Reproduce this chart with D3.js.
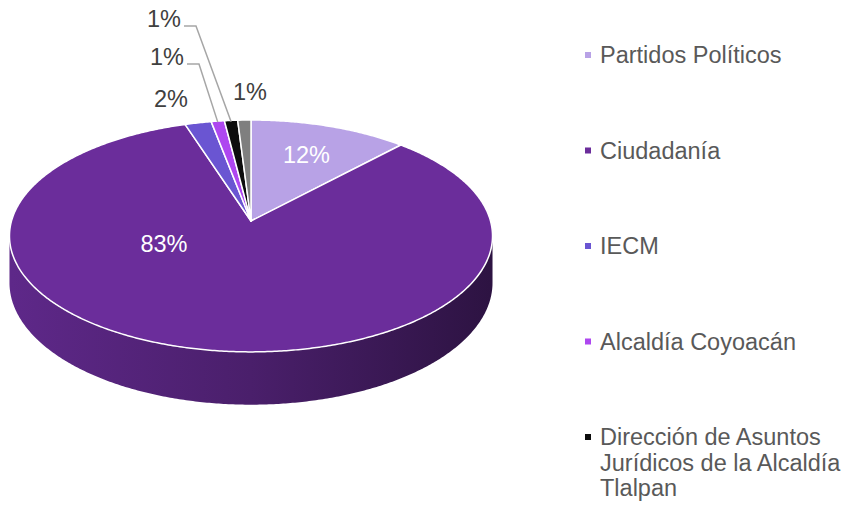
<!DOCTYPE html>
<html>
<head>
<meta charset="utf-8">
<script src="https://cdn.jsdelivr.net/npm/d3@7"></script>
<style>
  body { margin: 0; background: #fff; }
  text { font-family: "Liberation Sans", Arial, sans-serif; }
</style>
</head>
<body>
<div id="vis-holder"></div>
<script>
// Chart data
const categories = ["Partidos Políticos", "Ciudadanía", "IECM", "Alcaldía Coyoacán",
                    "Dirección de Asuntos Jurídicos de la Alcaldía Tlalpan", "Otros"];
const values = [12, 83, 2, 1, 1, 1];
const colors = ["#b8a2e6", "#6b2d9b", "#6a55d2", "#ae47f0", "#0d0d0d", "#7f7f7f"];

const width = 850, height = 507;

// 3D pie geometry (perspective squashed disc)
const cx = 251, cy = 221;
const a = 239.5, b = 114, k = 0.129, depth = 46;

const svg = d3.select("#vis-holder")
              .append("svg")
              .attr("width", width)
              .attr("height", height);

const total = d3.sum(values);
const pie = d3.pie().sort(null).value(d => d)(values);

// angle measured clockwise from 12 o'clock
function proj(theta, r, dz) {
  const u = r * Math.sin(theta), v = -r * Math.cos(theta);
  const s = 1 / (1 - k * v);
  return [cx + a * u * s, cy + (b * v + (dz || 0)) * s];
}

function rim(t0, t1, dz) {
  const n = Math.max(2, Math.ceil(Math.abs(t1 - t0) / (Math.PI / 360)));
  return d3.range(n + 1).map(i => proj(t0 + (t1 - t0) * i / n, 1, dz));
}

const line = d3.line();

// gradients for the side walls
const defs = svg.append("defs");
pie.forEach((p, i) => {
  const c = d3.color(colors[i]);
  const g = defs.append("linearGradient")
    .attr("id", "side" + i)
    .attr("gradientUnits", "userSpaceOnUse")
    .attr("x1", cx - a).attr("x2", cx + a).attr("y1", 0).attr("y2", 0);
  g.append("stop").attr("offset", "0%").attr("stop-color", c.darker(0.35));
  g.append("stop").attr("offset", "50%").attr("stop-color", c.darker(1.05));
  g.append("stop").attr("offset", "100%").attr("stop-color", c.darker(2.4));
});

// visible front wall spans from the rightmost to leftmost point
const tRight = Math.acos(-k), tLeft = 2 * Math.PI - Math.acos(-k);

svg.append("g").selectAll("path")
  .data(pie.filter(p => p.endAngle > tRight && p.startAngle < tLeft))
  .join("path")
  .attr("d", p => {
    const t0 = Math.max(p.startAngle, tRight), t1 = Math.min(p.endAngle, tLeft);
    const pts = rim(t0, t1, 0).concat(rim(t1, t0, depth));
    return line(pts) + "Z";
  })
  .attr("fill", p => "url(#side" + p.index + ")");

// top face
svg.append("g").selectAll("path")
  .data(pie)
  .join("path")
  .attr("d", p => line([[cx, cy]].concat(rim(p.startAngle, p.endAngle, 0))) + "Z")
  .attr("fill", p => colors[p.index])
  .attr("stroke", "#fff")
  .attr("stroke-width", 1.5)
  .attr("stroke-linejoin", "round");

// data labels
const labelLayout = [
  { angle: null, r: 0.68, inside: true },
  { angle: 241, r: 0.405, inside: true },
  { pos: [171, 99] },
  { pos: [167, 57], leader: true },
  { pos: [164, 19], leader: true },
  { pos: [250, 92] }
];

const labels = svg.append("g").attr("font-size", "23.5px");
pie.forEach((p, i) => {
  const L = labelLayout[i];
  const txt = Math.round(values[i] / total * 100) + "%";
  let x, y;
  if (L.inside) {
    const t = L.angle === null ? (p.startAngle + p.endAngle) / 2 : L.angle * Math.PI / 180;
    [x, y] = proj(t, L.r, 0);
  } else {
    [x, y] = L.pos;
  }
  const t = labels.append("text")
    .attr("x", x).attr("y", y).attr("dy", "0.35em")
    .attr("text-anchor", "middle")
    .attr("fill", L.inside ? "#fff" : "#404040")
    .text(txt);
  if (L.leader) {
    const w = t.node().getComputedTextLength();
    const x0 = x + w / 2 + 3, y0 = y + 7;
    const end = proj((p.startAngle + p.endAngle) / 2, 1, 0);
    svg.append("path")
      .attr("d", line([[x0, y0], [x0 + 12, y0], [end[0], end[1] + 1]]))
      .attr("fill", "none")
      .attr("stroke", "#a6a6a6")
      .attr("stroke-width", 1.5);
  }
});

// legend (entries past the bottom edge are clipped off, as in the original)
const legend = svg.append("g").attr("font-size", "23.5px");
const legendY = d3.scaleLinear().domain([0, 1]).range([55, 150.5]);
categories.forEach((name, i) => {
  const y = legendY(i);
  if (y > height - 20) return;
  legend.append("rect")
    .attr("x", 585).attr("y", y - 3).attr("width", 6).attr("height", 6)
    .attr("fill", colors[i]);
  const t = legend.append("text")
    .attr("x", 600).attr("y", y).attr("dy", "0.35em")
    .attr("fill", "#595959");
  // wrap long names
  const words = name.split(" ");
  let lineNo = 0, cur = [];
  let tspan = t.append("tspan").attr("x", 600);
  words.forEach(w => {
    cur.push(w);
    tspan.text(cur.join(" "));
    if (tspan.node().getComputedTextLength() > 252 && cur.length > 1) {
      cur.pop();
      tspan.text(cur.join(" "));
      cur = [w];
      lineNo++;
      tspan = t.append("tspan").attr("x", 600).attr("y", y + lineNo * 25.5)
               .attr("dy", "0.35em").text(w);
    }
  });
});
</script>
</body>
</html>
